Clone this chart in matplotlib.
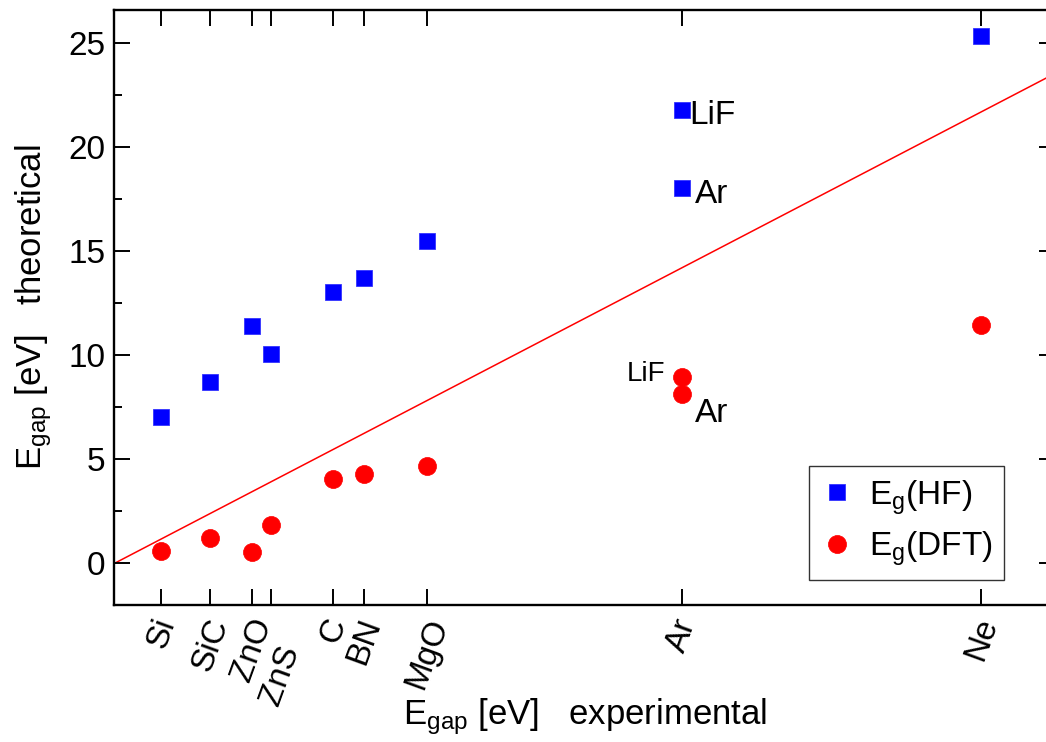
import matplotlib
matplotlib.use('Agg')
import matplotlib.pyplot as plt
from matplotlib.ticker import MultipleLocator
from matplotlib.transforms import ScaledTranslation

plt.rcParams['font.family'] = ['Liberation Sans', 'DejaVu Sans']
plt.rcParams['mathtext.fontset'] = 'custom'
plt.rcParams['mathtext.rm'] = 'Liberation Sans'
plt.rcParams['mathtext.it'] = 'Liberation Sans:italic'

# materials and experimental gaps (x axis)
materials = ['Si', 'SiC', 'ZnO', 'ZnS', 'C', 'BN', 'MgO', 'Ar', 'Ne']
exp_gap = [1.17, 2.40, 3.44, 3.91, 5.48, 6.25, 7.83, 14.2, 21.7]

# points: LiF sits at the same experimental gap as Ar
pt_names = ['Si', 'SiC', 'ZnO', 'ZnS', 'C', 'BN', 'MgO', 'LiF', 'Ar', 'Ne']
pt_exp = [1.17, 2.40, 3.44, 3.91, 5.48, 6.25, 7.83, 14.2, 14.2, 21.7]
hf_gap = [7.06, 8.71, 11.40, 10.08, 13.07, 13.74, 15.52, 21.80, 18.05, 25.34]
dft_gap = [0.59, 1.23, 0.56, 1.84, 4.08, 4.28, 4.66, 8.95, 8.15, 11.44]

fig = plt.figure(figsize=(10.46, 7.42), dpi=100)
ax = fig.add_axes([0.1093, 0.1846, 0.8993, 0.8019])

ax.set_xlim(0, 23.55)
ax.set_ylim(-2.0, 26.6)

# y = x reference line
ax.plot([0, 30], [0, 30], color='red', lw=1.1, zorder=1)

ax.plot(pt_exp, hf_gap, ls='none', marker='s', ms=12, color='#0000ff',
        mec='#3333ff', mew=0.6, label=r'E$_\mathrm{g}$(HF)', zorder=3)
ax.plot(pt_exp, dft_gap, ls='none', marker='o', ms=13, color='#ff0000',
        mec='#ff0000', mew=0.5, label=r'E$_\mathrm{g}$(DFT)', zorder=3)

i_lif = pt_names.index('LiF')
i_ar = pt_names.index('Ar')
ax.annotate('LiF', (pt_exp[i_lif], hf_gap[i_lif]), xytext=(5.8, -10),
            textcoords='offset points', fontsize=24, ha='left', va='baseline')
ax.annotate('Ar', (pt_exp[i_ar], hf_gap[i_ar]), xytext=(9.4, -11),
            textcoords='offset points', fontsize=24, ha='left', va='baseline')
ax.annotate('LiF', (pt_exp[i_lif], dft_gap[i_lif]), xytext=(-12, -2.9),
            textcoords='offset points', fontsize=20, ha='right', va='baseline')
ax.annotate('Ar', (pt_exp[i_ar], dft_gap[i_ar]), xytext=(9.4, -20.4),
            textcoords='offset points', fontsize=24, ha='left', va='baseline')

ax.set_xticks(exp_gap)
ax.set_xticklabels(materials, rotation=70, fontsize=24)

ax.yaxis.set_major_locator(MultipleLocator(5))
ax.yaxis.set_minor_locator(MultipleLocator(2.5))
ax.tick_params(axis='both', which='both', direction='in', top=True, right=True)
ax.tick_params(which='major', length=11.5, width=1.4, pad=6.5, labelsize=24)
ax.tick_params(which='minor', length=6, width=1.4)
ax.tick_params(axis='x', which='minor', top=False, bottom=False)
for s in ax.spines.values():
    s.set_linewidth(1.7)

ax.set_xlabel(r'E$_\mathrm{gap}$ [eV]   experimental', fontsize=25)
ax.xaxis.set_label_coords(0.5, -0.153)
ax.set_ylabel(r'E$_\mathrm{gap}$ [eV]   theoretical', fontsize=25, labelpad=10)

leg = ax.legend(loc='lower left', bbox_to_anchor=(0.7386, 0.042), borderaxespad=0,
                fontsize=24, fancybox=False, edgecolor='#333333', framealpha=1,
                handlelength=1.0, handletextpad=0.45, borderpad=0.35,
                labelspacing=0.4, numpoints=1)
leg.get_frame().set_linewidth(1.0)

# ZnS label pushed further down so it does not sit on ZnO
# (done last, tick_params resets label transforms)
for tick in ax.xaxis.get_major_ticks():
    if tick.label1.get_text() == 'ZnS':
        tick.label1.set_transform(tick.label1.get_transform()
                                  + ScaledTranslation(0.10, -0.27, fig.dpi_scale_trans))

fig.savefig('out.png', dpi=100)
